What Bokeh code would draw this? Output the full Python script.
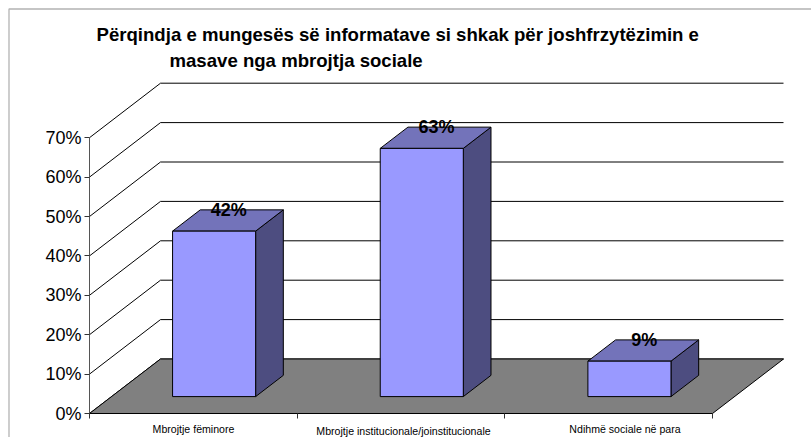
from bokeh.embed import file_html
from bokeh.resources import INLINE
from bokeh.plotting import figure
from bokeh.models import Range1d, FixedTicker, Label, BoxAnnotation, CustomJSTickFormatter

categories = ["Mbrojtje fëminore", "Mbrojtje institucionale/joinstitucionale", "Ndihmë sociale në para"]
values = [42, 63, 9]
value_labels = ["42%", "63%", "9%"]
y_ticks = [0, 10, 20, 30, 40, 50, 60, 70]
title_lines = ["Përqindja e mungesës së informatave si shkak për joshfrzytëzimin e",
               "masave nga mbrojtja sociale"]

W, H = 811, 437
LEFT, BOTTOM = 89, 24
CAT_PX = 207.67
PCT_PX = 3.94
DEPTH_X = 71 / CAT_PX       # depth of the floor in category units
DEPTH_Y = 54.5 / PCT_PX     # depth of the floor in percent units
BAR_W = 0.4
BAR_GAP = 0.294
Z0, Z1 = 0.31, 0.7


def px(x, y, z=0.0):
    return x + DEPTH_X * z, y + DEPTH_Y * z


p = figure(width=W, height=H, output_backend="svg", toolbar_location=None,
           x_range=Range1d(-LEFT / CAT_PX, (W - LEFT) / CAT_PX),
           y_range=Range1d(-BOTTOM / PCT_PX, (H - BOTTOM) / PCT_PX),
           min_border_left=0, min_border_bottom=0, min_border_top=0, min_border_right=0,
           background_fill_color="white", border_fill_color="white", outline_line_color=None)
p.grid.visible = False

# chart-area border: only its top and left edges fall inside the picture
p.add_layout(BoxAnnotation(left=8.5, right=W + 50, top=H - 8.5, bottom=-50,
                           left_units="screen", right_units="screen", top_units="screen", bottom_units="screen",
                           fill_color=None, fill_alpha=0, line_color="#000000", line_width=1.3))

# axes
ax = p.yaxis[0]
ax.fixed_location = 0
ax.ticker = FixedTicker(ticks=y_ticks)
ax.formatter = CustomJSTickFormatter(code="return tick + '%';")
ax.bounds = (0, 70)
ax.major_label_text_font = "Liberation Sans"
ax.major_label_text_font_size = "18px"
ax.major_label_text_color = "#000000"
ax.major_label_standoff = 3
ax.major_tick_in = 0
ax.major_tick_out = 5
ax.minor_tick_line_color = None
ax.axis_line_color = "#555555"
ax.major_tick_line_color = "#333333"

bx = p.xaxis[0]
bx.fixed_location = 0
bx.ticker = FixedTicker(ticks=list(range(len(categories) + 1)))
bx.major_label_text_font_size = "0px"
bx.major_label_text_color = None
bx.bounds = (0, len(categories))
bx.major_tick_in = 0
bx.major_tick_out = 5
bx.minor_tick_line_color = None
bx.axis_line_color = "#000000"
bx.major_tick_line_color = "#333333"

# walls: grid lines on the left wall and the back wall
n = len(categories)
for t in y_ticks:
    a, b = px(0, t, 0), px(0, t, 1)
    c = px(n, t, 1)
    p.line([a[0], b[0], c[0]], [a[1], b[1], c[1]], line_color="#000000", line_width=1)

# floor
corners = [px(0, 0, 0), px(n, 0, 0), px(n, 0, 1), px(0, 0, 1)]
p.patch([c[0] for c in corners], [c[1] for c in corners], fill_color="#808080",
        line_color="#000000", line_width=1)

# bars
for i, v in enumerate(values):
    x0 = i + BAR_GAP
    x1 = x0 + BAR_W
    front = [px(x0, 0, Z0), px(x1, 0, Z0), px(x1, v, Z0), px(x0, v, Z0)]
    side = [px(x1, 0, Z0), px(x1, 0, Z1), px(x1, v, Z1), px(x1, v, Z0)]
    top = [px(x0, v, Z0), px(x1, v, Z0), px(x1, v, Z1), px(x0, v, Z1)]
    for face, col in ((side, "#4D4D80"), (top, "#7373BA"), (front, "#9999FF")):
        p.patch([c[0] for c in face], [c[1] for c in face], fill_color=col,
                line_color="#000000", line_width=1)

# value labels
for i, (v, s) in enumerate(zip(values, value_labels)):
    lx, _ = px(i + 0.5, v, 0.5)
    _, ly = px(i + 0.5, v, Z1)
    p.add_layout(Label(x=lx, y=ly, text=s, text_font="Liberation Sans", text_font_style="bold",
                       text_font_size="18px", text_align="center", text_baseline="middle",
                       text_color="#000000"))

# category labels
label_x = [193, 403, 624.5]
label_y = [428, 430.5, 428]
for c, lx, ly in zip(categories, label_x, label_y):
    p.add_layout(Label(x=lx, y=H - ly, x_units="screen", y_units="screen",
                       text=c, text_font="Liberation Sans", text_font_size="10.6px",
                       text_align="center", text_baseline="middle", text_color="#000000"))

# title
for line, tx, ty in zip(title_lines, [96, 169], [34, 60]):
    p.add_layout(Label(x=tx, y=H - ty, x_units="screen", y_units="screen", text=line,
                       text_font="Liberation Sans", text_font_style="bold", text_font_size="18.6px",
                       text_align="left", text_baseline="middle", text_color="#000000"))

open("out.html", "w").write(file_html(p, INLINE))
